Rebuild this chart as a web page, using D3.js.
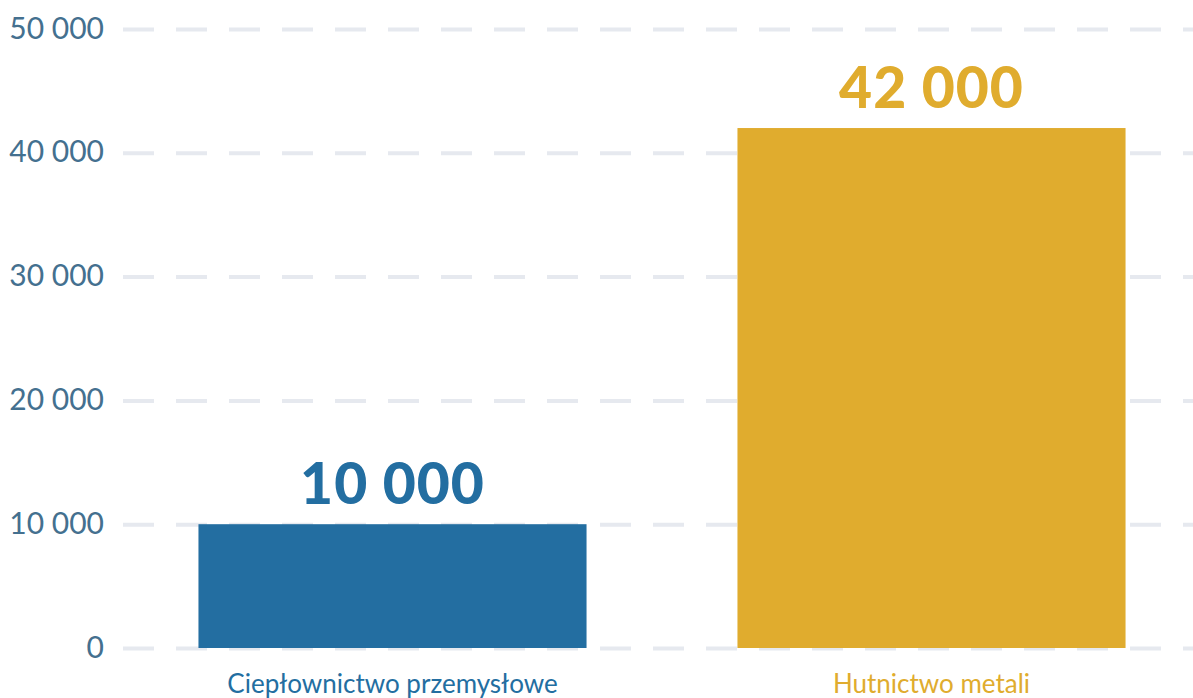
<!DOCTYPE html>
<html>
<head>
<meta charset="utf-8">
<script src="https://cdn.jsdelivr.net/npm/d3@7"></script>
<style>
  body { margin: 0; background: #fff; }
  .tick-text { font-family: "Lato", "Open Sans", sans-serif; fill: #44708f; font-size: 30px; }
  .bar-value { font-family: "Lato", sans-serif; font-weight: 900; font-size: 57px; letter-spacing: 1px; }
  .cat-label { font-family: "Lato", sans-serif; font-size: 26px; }
</style>
</head>
<body>
<div id="chart"></div>
<script>
// data
const categories = ["Ciepłownictwo przemysłowe", "Hutnictwo metali"];
const values = [10000, 42000];
const barColors = ["#236ea1", "#e0ac2e"];
const yTicks = [0, 10000, 20000, 30000, 40000, 50000];

const width = 1193, height = 698;
const margin = {top: 29, right: 0, bottom: 50, left: 123};
const innerW = width - margin.left - margin.right,
      innerH = height - margin.top - margin.bottom;

const svg = d3.select("#chart")
  .append("svg")
    .attr("width", width)
    .attr("height", height)
  .append("g")
    .attr("transform", "translate(" + margin.left + "," + margin.top + ")");

const xScale = d3.scaleBand()
  .domain(categories)
  .range([0, innerW + 8])
  .paddingInner(0.28)
  .paddingOuter(0.14);

const yScale = d3.scaleLinear()
  .domain([0, 50000])
  .range([innerH, 0]);

const color = d3.scaleOrdinal().domain(categories).range(barColors);

const fmt = d => d3.format(",")(d).replace(/,/g, " ");

// grid lines (dashed)
const grid = svg.append("g")
  .call(d3.axisLeft(yScale).tickValues(yTicks).tickSize(-innerW).tickFormat(""));
grid.select(".domain").remove();
grid.selectAll("line")
  .attr("stroke", "#e6e9ef")
  .attr("stroke-width", 4)
  .attr("stroke-dasharray", "31 22");

// y tick labels
const yAxis = svg.append("g")
  .call(d3.axisLeft(yScale).tickValues(yTicks).tickSize(0).tickPadding(19).tickFormat(fmt));
yAxis.select(".domain").remove();
yAxis.selectAll("text")
  .attr("class", "tick-text")
  .attr("dy", "0.3em");

// bars
svg.selectAll(".bar")
  .data(values)
  .enter()
  .append("rect")
  .attr("class", "bar")
  .attr("x", (d, i) => xScale(categories[i]))
  .attr("y", d => yScale(d))
  .attr("width", xScale.bandwidth())
  .attr("height", d => innerH - yScale(d))
  .style("fill", (d, i) => color(categories[i]));

// values above bars
svg.selectAll(".bar-value")
  .data(values)
  .enter()
  .append("text")
  .attr("class", "bar-value")
  .attr("x", (d, i) => xScale(categories[i]) + xScale.bandwidth() / 2)
  .attr("y", d => yScale(d) - 20)
  .attr("text-anchor", "middle")
  .style("fill", (d, i) => color(categories[i]))
  .text(fmt);

// category labels
const xAxis = svg.append("g")
  .attr("transform", "translate(0," + innerH + ")")
  .call(d3.axisBottom(xScale).tickSize(0).tickPadding(27));
xAxis.select(".domain").remove();
xAxis.selectAll("text")
  .attr("class", "cat-label")
  .style("fill", d => color(d));
</script>
</body>
</html>
